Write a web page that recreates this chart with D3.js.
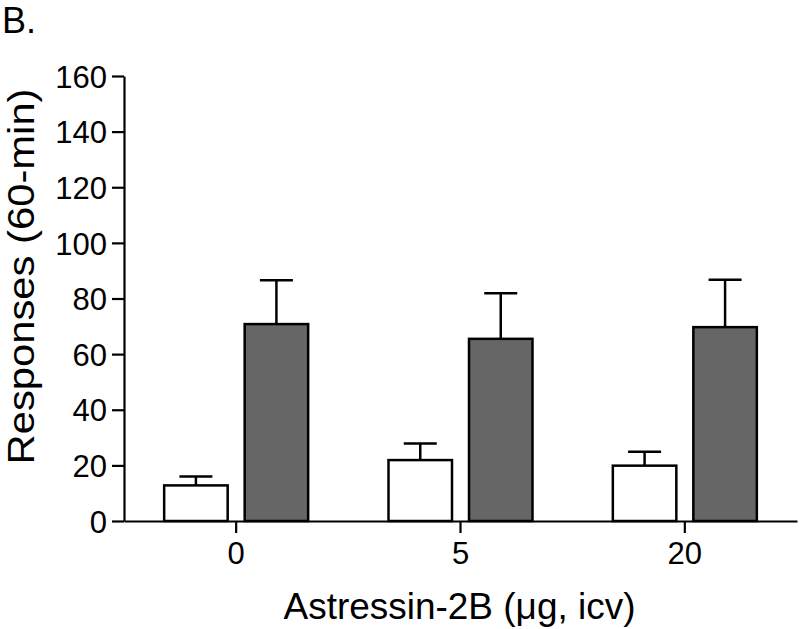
<!DOCTYPE html>
<html>
<head>
<meta charset="utf-8">
<script src="https://cdn.jsdelivr.net/npm/d3@7"></script>
<style>
  html, body { margin: 0; padding: 0; background: #fff; }
  svg { display: block; }
  text { font-family: "Liberation Sans", Arial, sans-serif; fill: #000; }
</style>
</head>
<body>
<svg id="chart" width="800" height="629"></svg>
<script>
const categories = ["0", "5", "20"];
const seriesNames = ["control", "treated"];
const whiteMeans = [12.8, 21.9, 19.9];
const whiteSEM = [3.2, 6.0, 5.0];
const darkMeans = [70.8, 65.5, 69.7];
const darkSEM = [15.8, 16.4, 17.0];
const yTicks = [0, 20, 40, 60, 80, 100, 120, 140, 160];
const panelLabel = "B.";
const xTitle = "Astressin-2B (\u03BCg, icv)";
const yTitle = "Responses (60-min)";

const svg = d3.select("#chart");
const mLeft = 124, mRight = 797, mTop = 76, mBottom = 521;

const x = d3.scaleBand().domain(categories).range([mLeft, mRight]).padding(0);
const y = d3.scaleLinear().domain([0, 160]).range([mBottom, mTop]);
const barW = 63.5, gap = 17;

const data = [];
categories.forEach((c, i) => {
  data.push({cat: c, s: 0, mean: whiteMeans[i], err: whiteSEM[i]});
  data.push({cat: c, s: 1, mean: darkMeans[i], err: darkSEM[i]});
});
const barX = d => x(d.cat) + x.bandwidth() / 2 + (d.s === 0 ? -gap / 2 - barW : gap / 2);

// error bars (upward only)
const eb = svg.append("g").attr("stroke", "#000").attr("stroke-width", 2.5);
eb.selectAll("line.v").data(data).join("line").attr("class", "v")
  .attr("x1", d => barX(d) + barW / 2).attr("x2", d => barX(d) + barW / 2)
  .attr("y1", d => y(d.mean)).attr("y2", d => y(d.mean + d.err));
eb.selectAll("line.c").data(data).join("line").attr("class", "c")
  .attr("x1", d => barX(d) + barW / 2 - 16.5).attr("x2", d => barX(d) + barW / 2 + 16.5)
  .attr("y1", d => y(d.mean + d.err)).attr("y2", d => y(d.mean + d.err));

// bars
svg.append("g").selectAll("rect").data(data).join("rect")
  .attr("x", barX).attr("width", barW)
  .attr("y", d => y(d.mean)).attr("height", d => y(0) - y(d.mean))
  .attr("fill", d => d.s === 0 ? "#ffffff" : "#666666")
  .attr("stroke", "#000").attr("stroke-width", 2.5);

// y axis
const ya = svg.append("g").attr("transform", `translate(${mLeft},0)`)
  .call(d3.axisLeft(y).tickValues(yTicks).tickSize(12).tickPadding(5).tickSizeOuter(0));
ya.select(".domain").attr("stroke-width", 2.2);
ya.selectAll(".tick line").attr("stroke-width", 2.2);
ya.selectAll(".tick text").attr("font-size", 31).attr("font-family", "Liberation Sans, Arial, sans-serif").attr("dy", "0.36em");

// x axis
const xa = svg.append("g").attr("transform", `translate(0,${mBottom})`)
  .call(d3.axisBottom(x).tickSize(12).tickPadding(9).tickSizeOuter(0));
xa.select(".domain").attr("stroke-width", 2.2);
xa.selectAll(".tick line").attr("stroke-width", 2.2);
xa.selectAll(".tick text").attr("font-size", 31).attr("font-family", "Liberation Sans, Arial, sans-serif");

// titles
svg.append("text").attr("x", 459.5).attr("y", 619)
  .attr("text-anchor", "middle").attr("font-size", 37)
  .attr("textLength", 352).attr("lengthAdjust", "spacingAndGlyphs").text(xTitle);
svg.append("text").attr("transform", `translate(34,276.5) rotate(-90)`)
  .attr("text-anchor", "middle").attr("font-size", 36)
  .attr("textLength", 376).attr("lengthAdjust", "spacingAndGlyphs").text(yTitle);
svg.append("text").attr("x", 2).attr("y", 33).attr("font-size", 36).text(panelLabel);
</script>
</body>
</html>
